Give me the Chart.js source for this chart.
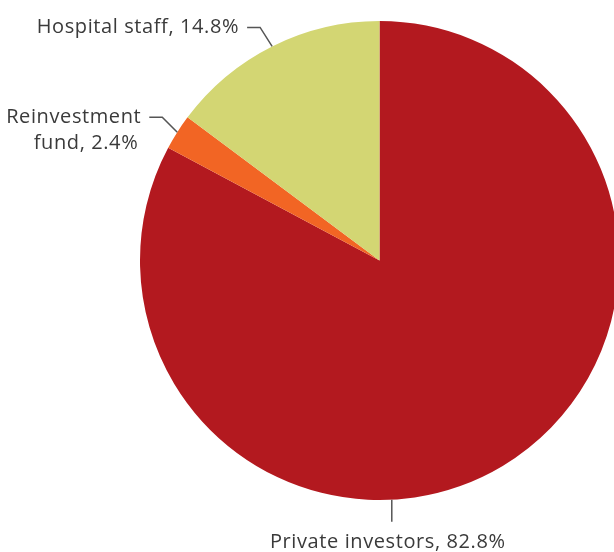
<!DOCTYPE html>
<html>
<head>
<meta charset="utf-8">
<script src="https://cdn.jsdelivr.net/npm/chart.js@4"></script>
<style>
  html, body { margin: 0; padding: 0; background: #fff; overflow: hidden; }
  #wrap { width: 760px; height: 552px; }
</style>
</head>
<body>
<div id="wrap"><canvas id="pie" width="760" height="552"></canvas></div>
<script>
// chart data
const labels = ['Private investors', 'Reinvestment fund', 'Hospital staff'];
const shares = [82.8, 2.4, 14.8];
const colors = ['#B3191F', '#F26524', '#D3D673'];
const labelLines = [['Private investors, 82.8%'], ['Reinvestment', 'fund, 2.4%'], ['Hospital staff, 14.8%']];

// where each leader line leaves the slice (fraction along its arc)
const anchorFrac = [0.594, 0.5, 0.5];

const FONT = '20px "Open Sans", "Noto Sans", sans-serif';
const INK = '#3a3a3a';

const leaderPlugin = {
  id: 'leaders',
  afterDatasetsDraw(chart) {
    const ctx = chart.ctx;
    const arcs = chart.getDatasetMeta(0).data;
    ctx.save();
    ctx.strokeStyle = '#555';
    ctx.lineWidth = 1.5;
    ctx.fillStyle = INK;
    ctx.font = FONT;
    ctx.letterSpacing = '0.6px';
    ctx.textBaseline = 'middle';
    arcs.forEach((arc, i) => {
      const a = arc.startAngle + (arc.endAngle - arc.startAngle) * anchorFrac[i];
      const ax = arc.x + Math.cos(a) * arc.outerRadius;
      const ay = arc.y + Math.sin(a) * arc.outerRadius;
      ctx.beginPath();
      if (i === 0) {
        // straight drop below the pie
        ctx.moveTo(ax, ay);
        ctx.lineTo(ax, ay + 22);
        ctx.stroke();
        ctx.textAlign = 'center';
        ctx.fillText(labelLines[i][0], ax - 4, ay + 43);
      } else {
        const ex = ax - (i === 1 ? 15 : 12);
        const ey = ay - (i === 1 ? 15 : 19);
        ctx.moveTo(ax, ay);
        ctx.lineTo(ex, ey);
        ctx.lineTo(ex - 13, ey);
        ctx.stroke();
        ctx.textAlign = 'right';
        const tx = ex - 21;
        labelLines[i].forEach((t, k) => {
          ctx.fillText(t, tx - k * 3, ey + k * 26);
        });
      }
    });
    ctx.restore();
  }
};

new Chart(document.getElementById('pie'), {
  type: 'pie',
  data: {
    labels,
    datasets: [{
      data: shares,
      backgroundColor: colors,
      borderWidth: 0
    }]
  },
  options: {
    responsive: false,
    animation: false,
    layout: { padding: { left: 140, right: 141, top: 21, bottom: 52 } },
    plugins: {
      legend: { display: false },
      tooltip: { enabled: false }
    }
  },
  plugins: [leaderPlugin]
});
</script>
</body>
</html>
